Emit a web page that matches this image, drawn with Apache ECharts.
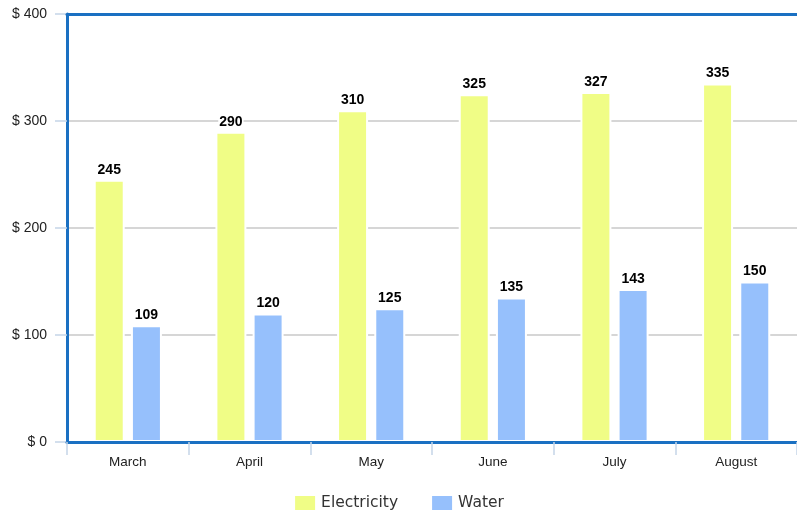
<!DOCTYPE html>
<html><head><meta charset="utf-8">
<script src="https://cdn.jsdelivr.net/npm/echarts@6/dist/echarts.min.js"></script>
<style>html,body{margin:0;padding:0;background:#fff}#c{width:797px;height:516px}</style>
</head><body><div id="c"></div>
<script>
var categories = ['March', 'April', 'May', 'June', 'July', 'August'];
var electricity = [245, 290, 310, 325, 327, 335];
var water = [109, 120, 125, 135, 143, 150];
var yTicks = [0, 100, 200, 300, 400];

var chart = echarts.init(document.getElementById('c'));
var blue = '#1a70c2';
var tickBlue = '#c5d5e8';
var labelStyle = {show: true, position: 'top', distance: 3, color: '#000', fontWeight: 'bold', fontSize: 14,
  fontFamily: 'Liberation Sans, Arial, sans-serif', backgroundColor: '#fff', padding: [0, 1]};
chart.setOption({
  animation: false,
  grid: {left: 67, right: 0, top: 14, bottom: 74},
  legend: {
    top: 489, left: 'center', itemWidth: 22, itemHeight: 16, itemGap: 32,
    icon: 'rect',
    textStyle: {fontSize: 15.5, color: '#333', fontFamily: 'DejaVu Sans, sans-serif'},
    data: ['Electricity', 'Water']
  },
  xAxis: [{
    type: 'category', data: categories, z: 10,
    axisLine: {lineStyle: {color: blue, width: 3}},
    axisTick: {show: true, length: 13, lineStyle: {color: tickBlue, width: 1.5}},
    axisLabel: {color: '#222', fontSize: 13.5, margin: 13, fontFamily: 'Liberation Sans, Arial, sans-serif'}
  }, {
    type: 'category', data: categories, position: 'top', z: 10,
    axisLine: {lineStyle: {color: blue, width: 3}},
    axisTick: {show: false}, axisLabel: {show: false}
  }],
  yAxis: {
    type: 'value', min: yTicks[0], max: yTicks[yTicks.length - 1], interval: 100,
    axisLine: {show: true, lineStyle: {color: blue, width: 3}},
    axisTick: {show: true, length: 12, lineStyle: {color: tickBlue, width: 1.5}},
    splitLine: {lineStyle: {color: '#c8c8c8', width: 1.5}},
    axisLabel: {color: '#222', fontSize: 14, margin: 20, fontFamily: 'Liberation Sans, Arial, sans-serif',
      formatter: function (v) { return '$ ' + v; }}
  },
  series: [{
    name: 'Electricity', type: 'bar', data: electricity, barWidth: 31, barGap: '20%',
    itemStyle: {color: '#f0fd86', borderColor: '#fff', borderWidth: 2},
    label: labelStyle
  }, {
    name: 'Water', type: 'bar', data: water, barWidth: 31,
    itemStyle: {color: '#96c0fc', borderColor: '#fff', borderWidth: 2},
    label: labelStyle
  }]
});
</script></body></html>
